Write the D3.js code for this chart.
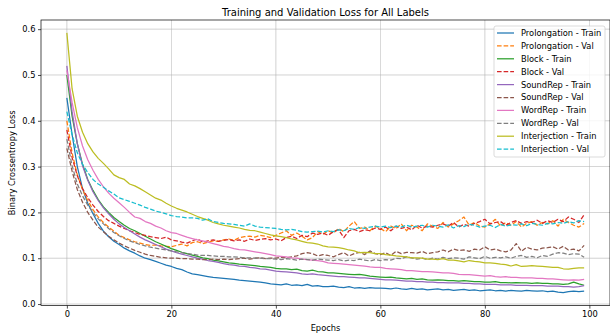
<!DOCTYPE html>
<html><head><meta charset="utf-8">
<script src="https://cdn.jsdelivr.net/npm/d3@7"></script>
<style>body{margin:0;background:#fff}svg{display:block;font-family:"DejaVu Sans",sans-serif}</style>
</head><body><svg id="c" width="610" height="335"></svg>
<script>
const epochs = d3.range(0, 100);
const labels = ["Prolongation", "Block", "SoundRep", "WordRep", "Interjection"];
const xTicks = [0, 20, 40, 60, 80, 100];
const yTicks = [0.0, 0.1, 0.2, 0.3, 0.4, 0.5, 0.6];

const prolongationTrain = [0.450,0.370,0.300,0.252,0.220,0.197,0.176,0.159,0.147,0.137,
0.130,0.122,0.116,0.111,0.105,0.100,0.097,0.093,0.089,0.085,
0.082,0.078,0.075,0.070,0.066,0.064,0.062,0.060,0.058,0.057,
0.056,0.055,0.054,0.052,0.051,0.050,0.049,0.048,0.046,0.044,
0.043,0.042,0.044,0.041,0.042,0.040,0.043,0.039,0.040,0.038,
0.038,0.039,0.037,0.036,0.038,0.035,0.036,0.034,0.036,0.035,
0.035,0.034,0.033,0.035,0.033,0.032,0.034,0.032,0.033,0.031,
0.032,0.033,0.031,0.032,0.030,0.031,0.032,0.030,0.031,0.029,
0.030,0.031,0.029,0.030,0.028,0.030,0.029,0.028,0.030,0.029,
0.028,0.029,0.027,0.028,0.026,0.025,0.027,0.028,0.027,0.028];
const prolongationVal = [0.400,0.330,0.282,0.250,0.226,0.206,0.190,0.178,0.168,0.159,
0.150,0.145,0.140,0.136,0.133,0.130,0.128,0.129,0.127,0.126,
0.125,0.128,0.131,0.127,0.134,0.136,0.132,0.135,0.138,0.137,
0.140,0.142,0.139,0.145,0.147,0.148,0.146,0.150,0.148,0.145,
0.150,0.155,0.160,0.150,0.155,0.148,0.140,0.145,0.158,0.152,
0.160,0.155,0.165,0.158,0.170,0.180,0.165,0.168,0.160,0.170,
0.165,0.158,0.170,0.165,0.175,0.160,0.172,0.168,0.160,0.175,
0.170,0.165,0.178,0.168,0.175,0.182,0.190,0.172,0.178,0.170,
0.168,0.175,0.185,0.170,0.178,0.172,0.180,0.168,0.176,0.180,
0.172,0.178,0.175,0.182,0.170,0.185,0.178,0.172,0.168,0.176];
const blockTrain = [0.500,0.410,0.350,0.305,0.272,0.248,0.228,0.212,0.200,0.189,
0.180,0.172,0.165,0.160,0.154,0.148,0.142,0.136,0.131,0.126,
0.121,0.117,0.113,0.110,0.107,0.104,0.101,0.099,0.096,0.094,
0.092,0.090,0.089,0.087,0.086,0.085,0.084,0.082,0.081,0.080,
0.078,0.077,0.077,0.075,0.076,0.073,0.072,0.074,0.071,0.070,
0.068,0.068,0.067,0.066,0.065,0.064,0.065,0.063,0.061,0.060,
0.059,0.058,0.059,0.057,0.056,0.055,0.056,0.054,0.055,0.053,
0.052,0.053,0.052,0.051,0.051,0.050,0.051,0.050,0.049,0.049,
0.048,0.048,0.049,0.047,0.047,0.046,0.047,0.046,0.046,0.045,
0.046,0.045,0.045,0.044,0.044,0.043,0.044,0.048,0.044,0.041];
const blockVal = [0.380,0.320,0.280,0.252,0.232,0.216,0.202,0.191,0.182,0.176,
0.170,0.165,0.160,0.156,0.152,0.150,0.147,0.145,0.143,0.146,
0.140,0.138,0.135,0.133,0.138,0.142,0.135,0.138,0.140,0.137,
0.139,0.141,0.138,0.140,0.137,0.142,0.139,0.141,0.143,0.140,
0.142,0.138,0.145,0.148,0.143,0.150,0.147,0.155,0.152,0.155,
0.150,0.158,0.162,0.145,0.160,0.163,0.158,0.162,0.160,0.166,
0.163,0.168,0.160,0.170,0.165,0.168,0.162,0.172,0.166,0.170,
0.168,0.172,0.175,0.170,0.178,0.168,0.174,0.170,0.176,0.180,
0.185,0.175,0.178,0.180,0.172,0.178,0.182,0.176,0.180,0.178,
0.183,0.176,0.182,0.178,0.185,0.180,0.190,0.185,0.178,0.195];
const soundRepTrain = [0.520,0.420,0.350,0.302,0.270,0.245,0.226,0.210,0.197,0.185,
0.175,0.167,0.160,0.153,0.146,0.140,0.135,0.130,0.125,0.120,
0.116,0.112,0.109,0.106,0.103,0.100,0.098,0.095,0.093,0.091,
0.088,0.086,0.085,0.083,0.082,0.080,0.079,0.077,0.076,0.074,
0.072,0.071,0.070,0.069,0.068,0.066,0.065,0.066,0.064,0.063,
0.062,0.061,0.060,0.060,0.059,0.058,0.057,0.057,0.056,0.055,
0.054,0.053,0.053,0.052,0.051,0.050,0.050,0.049,0.049,0.048,
0.048,0.047,0.047,0.046,0.046,0.046,0.045,0.045,0.044,0.044,
0.043,0.043,0.043,0.042,0.042,0.042,0.041,0.041,0.041,0.040,
0.040,0.040,0.039,0.039,0.039,0.038,0.038,0.037,0.038,0.040];
const soundRepVal = [0.340,0.290,0.250,0.222,0.200,0.183,0.168,0.158,0.148,0.140,
0.133,0.127,0.122,0.117,0.113,0.109,0.106,0.104,0.102,0.101,
0.100,0.100,0.099,0.099,0.098,0.098,0.097,0.097,0.098,0.097,
0.098,0.097,0.098,0.099,0.100,0.098,0.100,0.101,0.099,0.100,
0.100,0.102,0.101,0.103,0.105,0.110,0.112,0.110,0.105,0.108,
0.106,0.103,0.108,0.112,0.105,0.110,0.113,0.108,0.116,0.110,
0.108,0.112,0.106,0.115,0.110,0.113,0.112,0.111,0.115,0.110,
0.112,0.114,0.118,0.114,0.120,0.117,0.118,0.115,0.120,0.118,
0.125,0.118,0.120,0.116,0.114,0.118,0.132,0.115,0.124,0.120,
0.118,0.122,0.123,0.125,0.120,0.126,0.118,0.120,0.116,0.128];
const wordRepTrain = [0.510,0.440,0.385,0.345,0.315,0.292,0.272,0.256,0.242,0.231,
0.221,0.211,0.200,0.190,0.187,0.180,0.176,0.170,0.166,0.160,
0.156,0.154,0.150,0.146,0.143,0.140,0.138,0.135,0.132,0.129,
0.126,0.124,0.121,0.119,0.118,0.116,0.114,0.112,0.110,0.108,
0.105,0.104,0.103,0.101,0.100,0.098,0.097,0.096,0.095,0.093,
0.090,0.089,0.088,0.087,0.086,0.085,0.084,0.083,0.081,0.080,
0.080,0.078,0.077,0.076,0.075,0.073,0.073,0.072,0.071,0.071,
0.070,0.069,0.068,0.068,0.067,0.065,0.064,0.064,0.063,0.062,
0.061,0.062,0.060,0.059,0.060,0.058,0.058,0.057,0.057,0.057,
0.056,0.056,0.055,0.055,0.054,0.053,0.052,0.053,0.052,0.054];
const wordRepVal = [0.360,0.302,0.262,0.236,0.216,0.200,0.186,0.175,0.165,0.156,
0.149,0.143,0.138,0.134,0.130,0.127,0.124,0.122,0.120,0.118,
0.116,0.114,0.112,0.110,0.109,0.107,0.106,0.106,0.105,0.104,
0.104,0.103,0.103,0.102,0.101,0.101,0.100,0.100,0.099,0.099,
0.098,0.097,0.099,0.098,0.096,0.098,0.097,0.096,0.098,0.097,
0.096,0.095,0.097,0.094,0.096,0.095,0.098,0.096,0.094,0.097,
0.095,0.097,0.096,0.100,0.099,0.103,0.101,0.098,0.100,0.097,
0.100,0.098,0.102,0.099,0.101,0.100,0.098,0.103,0.101,0.099,
0.104,0.100,0.102,0.101,0.103,0.100,0.104,0.106,0.102,0.104,
0.101,0.106,0.104,0.109,0.112,0.111,0.108,0.110,0.109,0.102];
const interjectionTrain = [0.592,0.470,0.410,0.375,0.350,0.332,0.318,0.307,0.295,0.282,
0.276,0.272,0.262,0.258,0.252,0.245,0.238,0.231,0.227,0.220,
0.214,0.209,0.205,0.201,0.196,0.191,0.187,0.183,0.178,0.175,
0.172,0.170,0.168,0.166,0.163,0.161,0.160,0.157,0.154,0.151,
0.149,0.147,0.145,0.142,0.140,0.137,0.134,0.133,0.131,0.127,
0.125,0.124,0.123,0.121,0.118,0.116,0.112,0.113,0.112,0.110,
0.110,0.108,0.107,0.105,0.104,0.103,0.101,0.101,0.100,0.098,
0.098,0.097,0.099,0.096,0.096,0.094,0.092,0.095,0.093,0.092,
0.090,0.090,0.089,0.087,0.086,0.083,0.086,0.082,0.083,0.084,
0.083,0.082,0.081,0.080,0.080,0.077,0.076,0.078,0.079,0.079];
const interjectionVal = [0.420,0.370,0.330,0.305,0.287,0.272,0.262,0.255,0.247,0.240,
0.232,0.228,0.224,0.220,0.216,0.211,0.207,0.203,0.200,0.197,
0.193,0.191,0.190,0.188,0.188,0.187,0.183,0.186,0.180,0.178,
0.176,0.175,0.174,0.172,0.170,0.175,0.170,0.168,0.167,0.166,
0.165,0.163,0.162,0.163,0.161,0.158,0.157,0.158,0.159,0.157,
0.160,0.158,0.162,0.160,0.165,0.163,0.167,0.165,0.168,0.170,
0.168,0.170,0.167,0.170,0.168,0.172,0.168,0.170,0.172,0.168,
0.172,0.170,0.168,0.173,0.166,0.171,0.169,0.174,0.172,0.168,
0.170,0.172,0.167,0.174,0.170,0.173,0.172,0.175,0.171,0.176,
0.174,0.172,0.176,0.175,0.178,0.176,0.180,0.177,0.182,0.180];

const series = [
  {name: "Prolongation - Train", values: prolongationTrain, color: "#1f77b4", dashed: false},
  {name: "Prolongation - Val",   values: prolongationVal,   color: "#ff7f0e", dashed: true},
  {name: "Block - Train",        values: blockTrain,        color: "#2ca02c", dashed: false},
  {name: "Block - Val",          values: blockVal,          color: "#d62728", dashed: true},
  {name: "SoundRep - Train",     values: soundRepTrain,     color: "#9467bd", dashed: false},
  {name: "SoundRep - Val",       values: soundRepVal,       color: "#8c564b", dashed: true},
  {name: "WordRep - Train",      values: wordRepTrain,      color: "#e377c2", dashed: false},
  {name: "WordRep - Val",        values: wordRepVal,        color: "#7f7f7f", dashed: true},
  {name: "Interjection - Train", values: interjectionTrain, color: "#bcbd22", dashed: false},
  {name: "Interjection - Val",   values: interjectionVal,   color: "#17becf", dashed: true}
];

const svg = d3.select("#c");
const L = 41, R = 610, T = 20, B = 305.6;
const x = d3.scaleLinear().domain([-4.95, 103.95]).range([L, R]);
const y = d3.scaleLinear().domain([-0.0034, 0.620]).range([B, T]);
const fs = 8.3, tickLen = 3;

// grid
const grid = svg.append("g");
grid.selectAll(".gx").data(xTicks).join("line")
  .attr("x1", d => x(d)).attr("x2", d => x(d)).attr("y1", T).attr("y2", B)
  .attr("stroke", "#b0b0b0").attr("stroke-width", 0.7).attr("opacity", 0.8);
grid.selectAll(".gy").data(yTicks).join("line")
  .attr("x1", L).attr("x2", R).attr("y1", d => y(d)).attr("y2", d => y(d))
  .attr("stroke", "#b0b0b0").attr("stroke-width", 0.7).attr("opacity", 0.8);

// lines
const line = d3.line().x((d, i) => x(epochs[i])).y(d => y(d));
svg.append("g").selectAll("path").data(series).join("path")
  .attr("d", d => line(d.values))
  .attr("fill", "none").attr("stroke", d => d.color).attr("stroke-width", 1.25)
  .attr("stroke-linejoin", "round")
  .attr("stroke-dasharray", d => d.dashed ? "4.6,2" : null);

// axes
const xAxis = d3.axisBottom(x).tickValues(xTicks).tickFormat(d3.format("d")).tickSizeOuter(0).tickSize(tickLen).tickPadding(2.5);
const yAxis = d3.axisLeft(y).tickValues(yTicks).tickFormat(d3.format(".1f")).tickSizeOuter(0).tickSize(tickLen).tickPadding(2.5);
const gx = svg.append("g").attr("transform", `translate(0,${B})`).call(xAxis);
const gy = svg.append("g").attr("transform", `translate(${L},0)`).call(yAxis);
[gx, gy].forEach(g => {
  g.select(".domain").remove();
  g.selectAll("line").attr("stroke", "#000").attr("stroke-width", 0.7);
  g.selectAll("text").attr("font-size", fs).attr("fill", "#000").attr("font-family", "DejaVu Sans");
});

// spines
svg.append("rect").attr("x", L).attr("y", T).attr("width", R - L).attr("height", B - T)
  .attr("fill", "none").attr("stroke", "#000").attr("stroke-width", 0.7);

// titles
svg.append("text").attr("x", (L + R) / 2).attr("y", 15.5).attr("text-anchor", "middle")
  .attr("font-size", 10).text("Training and Validation Loss for All Labels");
svg.append("text").attr("x", (L + R) / 2).attr("y", 331).attr("text-anchor", "middle")
  .attr("font-size", fs).text("Epochs");
svg.append("text").attr("transform", `translate(15,${(T + B) / 2}) rotate(-90)`).attr("text-anchor", "middle")
  .attr("font-size", fs).text("Binary Crossentropy Loss");

// legend
const lg = svg.append("g").attr("transform", "translate(494,26)");
lg.append("rect").attr("width", 111).attr("height", 131).attr("rx", 2)
  .attr("fill", "#fff").attr("fill-opacity", 0.8).attr("stroke", "#cccccc").attr("stroke-width", 0.7);
const rows = lg.selectAll(".row").data(series).join("g")
  .attr("transform", (d, i) => `translate(0,${7 + i * 12.9})`);
rows.append("line").attr("x1", 3).attr("x2", 20).attr("y1", 0).attr("y2", 0)
  .attr("stroke", d => d.color).attr("stroke-width", 1.25)
  .attr("stroke-dasharray", d => d.dashed ? "4.6,2" : null);
rows.append("text").attr("x", 27).attr("y", 0).attr("dy", "0.35em")
  .attr("font-size", fs).text(d => d.name);
</script></body></html>
